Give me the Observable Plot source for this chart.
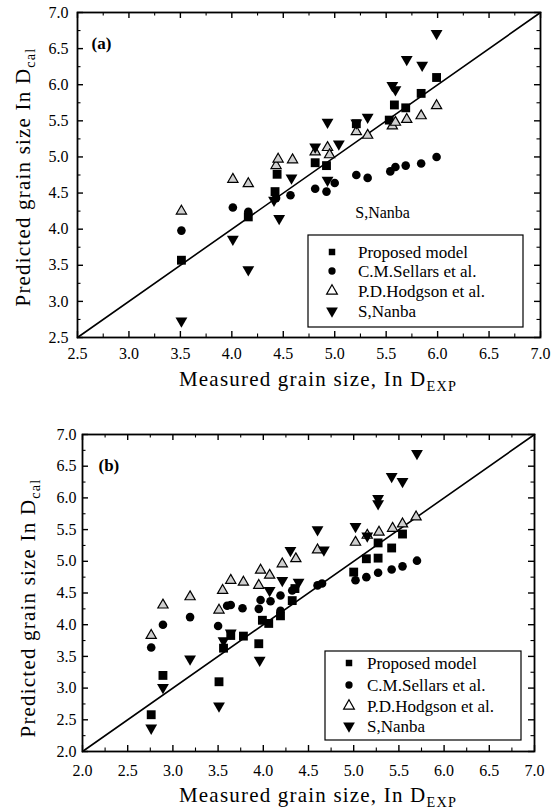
<!DOCTYPE html>
<html>
<head>
<meta charset="utf-8">
<script src="https://cdn.jsdelivr.net/npm/d3@7"></script>
<script src="https://cdn.jsdelivr.net/npm/@observablehq/plot@0.6"></script>
<style>
  html, body { margin: 0; padding: 0; background: #fff; }
  #chart { width: 560px; height: 809px; position: relative; }
  #chart svg { display: block; }
</style>
</head>
<body>
<div id="chart"></div>
<script>
// ---- Panel (a): measured vs predicted ln grain size ----
const proposedA = [[3.51,3.57],[4.16,4.17],[4.42,4.52],[4.44,4.76],[4.81,4.92],[4.92,4.88],[5.21,5.46],[5.53,5.51],[5.58,5.72],[5.69,5.68],[5.84,5.88],[5.99,6.10]];
const sellarsA = [[3.51,3.98],[4.01,4.30],[4.16,4.24],[4.43,4.43],[4.57,4.47],[4.81,4.56],[4.92,4.52],[5.00,4.64],[5.21,4.75],[5.32,4.71],[5.54,4.80],[5.59,4.86],[5.69,4.88],[5.84,4.91],[5.99,5.00]];
const hodgsonA = [[3.51,4.25],[4.01,4.69],[4.16,4.63],[4.43,4.88],[4.45,4.97],[4.59,4.96],[4.81,5.07],[4.93,5.13],[4.95,5.03],[5.21,5.35],[5.32,5.30],[5.56,5.43],[5.59,5.48],[5.70,5.52],[5.84,5.57],[5.99,5.71]];
const nanbaA = [[3.51,2.73],[4.01,3.86],[4.16,3.44],[4.41,4.40],[4.46,4.15],[4.58,4.71],[4.81,5.14],[4.93,5.48],[4.93,4.68],[5.04,5.18],[5.21,5.47],[5.32,5.55],[5.56,5.99],[5.59,5.93],[5.70,6.35],[5.85,6.27],[5.99,6.71]];
const diagonalA = [[2.5,2.5],[7.0,7.0]];
const domainA = [2.5, 7.0];
const majorTicksA = [2.5,3.0,3.5,4.0,4.5,5.0,5.5,6.0,6.5,7.0];
const minorTicksA = [2.75,3.25,3.75,4.25,4.75,5.25,5.75,6.25,6.75];

// ---- Panel (b) ----
const proposedB = [[2.76,2.58],[2.89,3.20],[3.51,3.10],[3.56,3.63],[3.64,3.83],[3.78,3.82],[3.95,3.70],[3.99,4.07],[4.06,4.02],[4.19,4.14],[4.32,4.38],[4.35,4.57],[5.00,4.83],[5.14,5.04],[5.27,5.05],[5.27,5.29],[5.42,5.21],[5.54,5.43]];
const sellarsB = [[2.76,3.64],[2.89,4.00],[3.19,4.12],[3.50,3.98],[3.60,4.30],[3.64,4.31],[3.77,4.26],[3.95,4.25],[3.97,4.39],[4.08,4.37],[4.19,4.46],[4.19,4.22],[4.32,4.54],[4.60,4.62],[4.65,4.65],[5.02,4.70],[5.14,4.75],[5.27,4.82],[5.42,4.87],[5.54,4.92],[5.70,5.01]];
const hodgsonB = [[2.76,3.83],[2.89,4.31],[3.19,4.44],[3.51,4.23],[3.55,4.54],[3.64,4.70],[3.78,4.67],[3.95,4.62],[3.97,4.86],[4.07,4.78],[4.21,4.96],[4.36,5.04],[4.60,5.18],[5.02,5.30],[5.15,5.41],[5.28,5.46],[5.43,5.52],[5.54,5.59],[5.69,5.70]];
const nanbaB = [[2.76,2.37],[2.89,3.01],[3.19,3.46],[3.51,2.72],[3.56,3.75],[3.64,3.87],[3.96,3.44],[4.07,4.54],[4.21,4.70],[4.30,5.17],[4.39,4.67],[4.60,5.50],[4.67,5.18],[5.02,5.55],[5.15,5.40],[5.27,5.99],[5.27,5.91],[5.42,6.34],[5.54,6.26],[5.70,6.70]];
const diagonalB = [[2.0,2.0],[7.0,7.0]];
const domainB = [2.0, 7.0];
const majorTicksB = [2.0,2.5,3.0,3.5,4.0,4.5,5.0,5.5,6.0,6.5,7.0];
const minorTicksB = [2.25,2.75,3.25,3.75,4.25,4.75,5.25,5.75,6.25,6.75];

const seriesNames = ["Proposed model", "C.M.Sellars et al.", "P.D.Hodgson et al.", "S,Nanba"];
const xTitle = ["Measured grain size, In D", "EXP"];
const yTitle = ["Predicted grain size In D", "cal"];

const FONT = "'Liberation Serif', 'DejaVu Serif', serif";

// Downward-pointing triangle, centred on its centroid like d3.symbolTriangle
const triangleDown = {
  draw(context, size) {
    const y = Math.sqrt(size / (3 * Math.sqrt(3)));
    context.moveTo(0, 2 * y);
    context.lineTo(-Math.sqrt(3) * y, -y);
    context.lineTo(Math.sqrt(3) * y, -y);
    context.closePath();
  }
};

const symbolStyles = [
  {symbol: "square", r: 5.0, fill: "#000", stroke: "none"},
  {symbol: "circle", r: 4.3, fill: "#000", stroke: "none"},
  {symbol: "triangle", r: 3.8, fill: "#cfcfcf", stroke: "#000", strokeWidth: 1.2},
  {symbol: triangleDown, r: 4.4, fill: "#000", stroke: "none"}
];

function seriesMarks(sets) {
  return sets.map((data, i) => Plot.dot(data, {x: d => d[0], y: d => d[1], ...symbolStyles[i]}));
}

// Inward-pointing ticks on all four sides of the frame, plus tick labels on bottom/left
function frameAxes(major, minor, innerW, innerH, labelPad) {
  const ticks = [];
  for (const [values, len, sw] of [[major, 6, 1.4], [minor, 3.5, 1.1]]) {
    ticks.push(
      Plot.tickX(values, {x: d => d, insetTop: innerH - len, stroke: "#000", strokeWidth: sw}),
      Plot.tickX(values, {x: d => d, insetBottom: innerH - len, stroke: "#000", strokeWidth: sw}),
      Plot.tickY(values, {y: d => d, insetRight: innerW - len, stroke: "#000", strokeWidth: sw}),
      Plot.tickY(values, {y: d => d, insetLeft: innerW - len, stroke: "#000", strokeWidth: sw})
    );
  }
  return [
    ...ticks,
    Plot.axisX(major, {anchor: "bottom", tickSize: 0, tickPadding: labelPad.x, label: null, tickFormat: d3.format(".1f")}),
    Plot.axisY(major, {anchor: "left", tickSize: 0, tickPadding: labelPad.y, label: null, tickFormat: d3.format(".1f")})
  ];
}

function titleWithSub(svg, parts, x, y, rotate, size) {
  const t = d3.select(svg).append("text")
    .attr("transform", `translate(${x},${y}) rotate(${rotate})`)
    .attr("text-anchor", "middle")
    .attr("font-family", FONT)
    .attr("font-size", size)
    .attr("letter-spacing", 1.2)
    .attr("fill", "#000");
  t.append("tspan").text(parts[0]);
  t.append("tspan").attr("font-size", size * 0.68).attr("dy", size * 0.22).text(parts[1]);
}

function legend(svg, box, rows, symX, textX) {
  const g = d3.select(svg).append("g")
    .attr("font-family", FONT).attr("font-size", 17).attr("text-anchor", "start");
  g.append("rect").attr("x", box[0]).attr("y", box[1]).attr("width", box[2]).attr("height", box[3])
    .attr("fill", "#fff").attr("stroke", "#000").attr("stroke-width", 1.2);
  const shapes = [d3.symbolSquare, d3.symbolCircle, d3.symbolTriangle, triangleDown];
  const sizes = [42, 42, 50, 60];
  seriesNames.forEach((name, i) => {
    g.append("path")
      .attr("transform", `translate(${symX},${rows[i]})`)
      .attr("d", d3.symbol(shapes[i], sizes[i])())
      .attr("fill", i === 2 ? "#fff" : "#000")
      .attr("stroke", i === 2 ? "#000" : "none")
      .attr("stroke-width", 1.2);
    g.append("text").attr("x", textX).attr("y", rows[i]).attr("dy", "0.35em")
      .attr("text-anchor", "start").attr("fill", "#000").text(name);
  });
}

const baseStyle = {fontFamily: FONT, fontSize: "16px", color: "#000", background: "#fff", overflow: "visible"};

// Panel (a)
const A = {width: 560, height: 400, marginLeft: 77, marginRight: 20, marginTop: 12, marginBottom: 63};
const plotA = Plot.plot({
  ...A,
  x: {domain: domainA}, y: {domain: domainA},
  style: baseStyle,
  marks: [
    Plot.line(diagonalA, {x: d => d[0], y: d => d[1], stroke: "#000", strokeWidth: 1.6}),
    ...seriesMarks([proposedA, sellarsA, hodgsonA, nanbaA]),
    Plot.text(["S,Nanba"], {x: 5.2, y: 4.23, textAnchor: "start", fontSize: 16}),
    Plot.text(["(a)"], {frameAnchor: "top-left", dx: 14, dy: 24, fontWeight: "bold", fontSize: 17}),
    Plot.frame({stroke: "#000", strokeWidth: 1.8}),
    ...frameAxes(majorTicksA, minorTicksA,
      A.width - A.marginLeft - A.marginRight, A.height - A.marginTop - A.marginBottom, {x: 10, y: 9})
  ]
});

// Panel (b)
const B = {width: 560, height: 409, marginLeft: 82, marginRight: 26, marginTop: 34, marginBottom: 58};
const plotB = Plot.plot({
  ...B,
  x: {domain: domainB}, y: {domain: domainB},
  style: baseStyle,
  marks: [
    Plot.line(diagonalB, {x: d => d[0], y: d => d[1], stroke: "#000", strokeWidth: 1.6}),
    ...seriesMarks([proposedB, sellarsB, hodgsonB, nanbaB]),
    Plot.text(["(b)"], {frameAnchor: "top-left", dx: 16, dy: 24, fontWeight: "bold", fontSize: 17}),
    Plot.frame({stroke: "#000", strokeWidth: 1.8}),
    ...frameAxes(majorTicksB, minorTicksB,
      B.width - B.marginLeft - B.marginRight, B.height - B.marginTop - B.marginBottom, {x: 13, y: 6})
  ]
});

titleWithSub(plotA, xTitle, 318, 386, 0, 21);
titleWithSub(plotA, yTitle, 30, 177, -90, 21);
legend(plotA, [308, 235, 215, 92], [252, 271, 291, 311], 332, 358);

titleWithSub(plotB, xTitle, 318, 402, 0, 21);
titleWithSub(plotB, yTitle, 35, 208, -90, 21);
legend(plotB, [325, 251, 196, 89], [263, 285, 306, 326], 349, 367);

document.getElementById("chart").append(plotA, plotB);
</script>
</body>
</html>
